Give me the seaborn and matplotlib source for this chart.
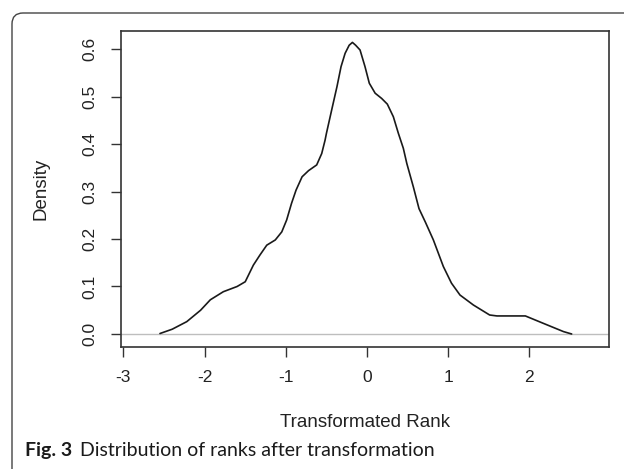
import numpy as np
import pandas as pd
import matplotlib
matplotlib.use('Agg')
import matplotlib.pyplot as plt
from matplotlib.patches import FancyBboxPatch
from matplotlib.transforms import IdentityTransform
import seaborn as sns

# density curve
rank = [-2.55, -2.40, -2.22, -2.05, -1.93, -1.77, -1.60, -1.50, -1.40,
        -1.32, -1.235, -1.13, -1.05, -0.99, -0.93, -0.874, -0.80, -0.72, -0.62,
        -0.558, -0.517, -0.50, -0.435, -0.37, -0.32, -0.27, -0.22, -0.18, -0.14,
        -0.086, -0.025, 0.028, 0.10, 0.18, 0.25, 0.324, 0.386, 0.447, 0.49,
        0.57, 0.64, 0.72, 0.817, 0.94, 1.04, 1.145, 1.31, 1.51, 1.60,
        1.95, 2.17, 2.42, 2.52]
density = [0.001, 0.01, 0.026, 0.05, 0.072, 0.089, 0.10, 0.11, 0.145,
           0.166, 0.187, 0.198, 0.215, 0.24, 0.275, 0.303, 0.331, 0.344, 0.356,
           0.380, 0.408, 0.4225, 0.472, 0.521, 0.563, 0.591, 0.608, 0.614, 0.608,
           0.598, 0.563, 0.528, 0.507, 0.496, 0.484, 0.4575, 0.4225, 0.391, 0.359,
           0.31, 0.264, 0.235, 0.198, 0.142, 0.107, 0.082, 0.061, 0.04, 0.038,
           0.038, 0.0225, 0.005, 0.0]

x_ticks = [-3, -2, -1, 0, 1, 2]
y_ticks = [0.0, 0.1, 0.2, 0.3, 0.4, 0.5, 0.6]

sns.set_theme(style='white')
plt.rcParams['font.family'] = ['Liberation Sans', 'DejaVu Sans']

df = pd.DataFrame({'rank': rank, 'density': density})

fig = plt.figure(figsize=(6.24, 4.69), dpi=100)
ax = fig.add_axes([121 / 624, 1 - 347 / 469, 488 / 624, 316 / 469])

ax.axhline(0, color='#bebebe', lw=1.0, zorder=1)
sns.lineplot(data=df, x='rank', y='density', ax=ax, color='#1a1a1a',
             lw=1.2, estimator=None, zorder=2)

ax.set_xlim(-3.03, 2.98)
ax.set_ylim(-0.0274, 0.638)
ax.set_xticks(x_ticks)
ax.set_xticklabels([str(t) for t in x_ticks])
ax.set_yticks(y_ticks)
ax.set_yticklabels([f'{t:.1f}' for t in y_ticks])

for s in ax.spines.values():
    s.set_color('#333333')
    s.set_linewidth(1.2)

ax.tick_params(axis='both', direction='out', length=7.2, width=1.0,
               color='#333333', labelsize=12.5, labelcolor='#222222')
ax.tick_params(axis='x', bottom=True, pad=9)
ax.tick_params(axis='y', left=True, pad=10, labelrotation=90)
plt.setp(ax.get_yticklabels(), va='center')

ax.set_xlabel('Transformated Rank', fontsize=13.5, color='#222222')
ax.set_ylabel('Density', fontsize=13.5, color='#222222')
ax.xaxis.label.set_va('center')
ax.xaxis.set_label_coords(0.5, -0.2405)
ax.yaxis.label.set_va('center')
ax.yaxis.set_label_coords(-0.164, 0.5)

# outer frame of the figure panel
frame = FancyBboxPatch((12, -30), 650, 486, boxstyle='round,pad=0,rounding_size=11',
                       transform=IdentityTransform(), fill=False,
                       edgecolor='#444444', lw=1.0)
fig.patches.append(frame)

# caption: bold label followed by regular text
cap = fig.text(25 / 624, 1 - 450 / 469, 'Fig. 3', fontsize=14, fontweight='bold',
               family=['Lato', 'DejaVu Sans'], va='center', ha='left', color='#1a1a1a')
ax.annotate('Distribution of ranks after transformation', xy=(1, 0.5), xycoords=cap,
            xytext=(6, 0), textcoords='offset points', va='center', ha='left',
            fontsize=14, family=['Lato', 'DejaVu Sans'], color='#1a1a1a',
            annotation_clip=False)

fig.savefig('out.png', dpi=100)
